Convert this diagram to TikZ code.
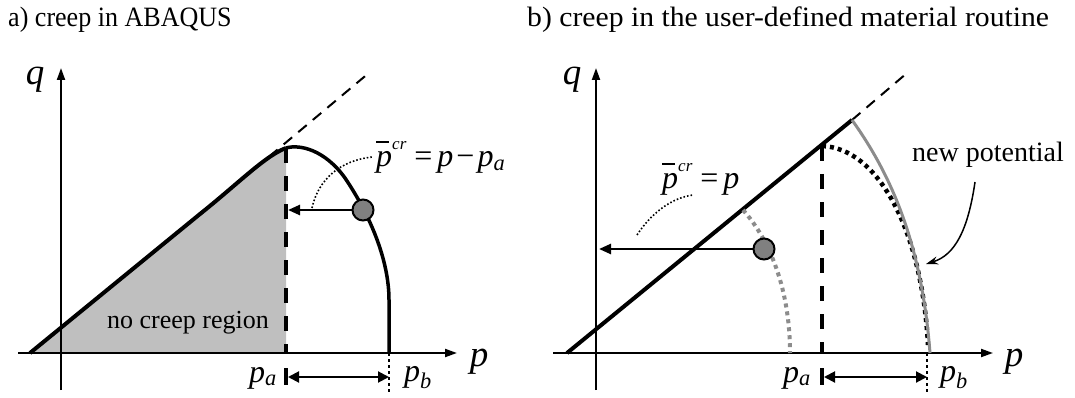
\documentclass[tikz,border=0pt]{standalone}
\usepackage{fontspec}
\setmainfont{Liberation Serif}
\usepackage{graphicx}
\usetikzlibrary{arrows.meta}
\tikzset{axis/.style={-{Triangle[length=12pt,width=8pt]},line width=2pt},
         yieldline/.style={line width=4pt},
         capline/.style={line width=3.5pt},
         asym/.style={line width=2pt,dash pattern=on 11pt off 8pt},
         cutline/.style={line width=4pt,dash pattern=on 15pt off 13pt},
         dimline/.style={{Triangle[length=11pt,width=11pt]}-{Triangle[length=11pt,width=11pt]},line width=2pt},
         state/.style={circle,draw,line width=2pt,fill=black!50,minimum size=21pt,inner sep=0pt},
         push/.style={-{Triangle[length=12pt,width=10pt]},line width=2.5pt},
         lead/.style={dotted,line width=1.6pt},
         title/.style={font=\fontsize{28}{30}\selectfont,anchor=base west,inner sep=0pt},
         axlabel/.style={font=\fontsize{37}{37}\selectfont\itshape,inner sep=0pt},
         sublabel/.style={font=\fontsize{32}{32}\selectfont,inner sep=0pt},
         lbl/.style={font=\fontsize{26}{30}\selectfont,inner sep=0pt}}
\newcommand{\pcr}{\makebox[0pt][l]{\raisebox{0.74em}{\rule{0.4em}{0.06em}}}\textit{p}\raisebox{0.55em}{\fontsize{17}{17}\selectfont\textit{cr}}}
\newcommand{\psub}[1]{\textit{p}\textsubscript{\textit{#1}}}

\begin{document}
\begin{tikzpicture}[x=1pt,y=-1pt]
  \useasboundingbox (0,0) rectangle (1075,398);
  % a) creep in ABAQUS
  \node[title] (ta) at (8,27) {\scalebox{0.93}[1]{a) creep in ABAQUS}};
  \fill[black!25] (30,353) -- (200,214) .. controls (240,182) and (265,156) .. (286,148)
    -- (286,353) -- cycle;
  \node[lbl] (nocreep) at (188,323) {no creep region};
  \coordinate (qa0) at (61,390); \coordinate (qa1) at (61,68);
  \coordinate (pa0) at (18,353); \coordinate (pa1) at (457,353);
  \draw[axis] (qa0) -- (qa1);
  \draw[axis] (pa0) -- (pa1);
  \node[axlabel] (qla) at (35,80) {q};
  \node[axlabel] (pla) at (479,362) {p};
  \coordinate (da0) at (240,181); \coordinate (da1) at (370,72);
  \draw[asym] (da0) -- (da1);
  \coordinate (ya0) at (30,353); \coordinate (ya1) at (286,148);
  \draw[yieldline] (ya0) -- (200,214) .. controls (240,182) and (265,156) .. (ya1);
  \coordinate (ca0) at (286,353);
  \draw[cutline] (ya1) -- (ca0);
  \coordinate (cb0) at (389,353);
  \draw[capline] (ya1) .. controls (300,144) and (325,150) .. (345,178)
    .. controls (370,215) and (389,260) .. (389,300) -- (cb0);
  \node[state] (sa) at (363,210) {};
  \coordinate (ta0) at (288,210);
  \draw[push] (sa) -- (ta0);
  \coordinate (la0) at (312,208); \coordinate (la1) at (373,157);
  \draw[lead] (la0) .. controls (318,180) and (340,160) .. (la1);
  \node[sublabel,anchor=base west] (eqa) at (376,167)
    {\pcr\hspace{0.25em}=\hspace{0.15em}\textit{p}\hspace{0.1em}−\hspace{0.1em}\psub{a}};
  % limits below the p axis
  \coordinate (ka0) at (286,368); \coordinate (ka1) at (286,385);
  \draw[line width=4pt] (ka0) -- (ka1);
  \coordinate (kb0) at (389,392);
  \draw[dashed,line width=1.5pt] (cb0) -- (kb0);
  \coordinate (ma0) at (288,377); \coordinate (ma1) at (389,377);
  \draw[dimline] (ma0) -- (ma1);
  \node[sublabel] (paa) at (263,378) {\psub{a}};
  \node[sublabel] (pba) at (418,378) {\psub{b}};

  % b) creep in the user-defined material routine
  \node[title] (tb) at (527,27) {\scalebox{1.06}[1]{b) creep in the user-defined material routine}};
  \coordinate (qb0) at (596,390); \coordinate (qb1) at (596,68);
  \coordinate (pb0) at (553,353); \coordinate (pb1) at (993,353);
  \draw[axis] (qb0) -- (qb1);
  \draw[axis] (pb0) -- (pb1);
  \node[axlabel] (qlb) at (572,80) {q};
  \node[axlabel] (plb) at (1014,362) {p};
  \coordinate (yb0) at (567,353); \coordinate (yb1) at (852,120);
  \coordinate (db1) at (907,73);
  \draw[asym] (yb1) -- (db1);
  \draw[yieldline] (yb0) -- (yb1);
  \coordinate (cc1) at (822,146); \coordinate (cc0) at (822,353);
  \draw[cutline] (cc1) -- (cc0);
  \coordinate (go0) at (743,210); \coordinate (go1) at (790,353);
  \draw[black!45,line width=4pt,dash pattern=on 4pt off 4pt] (go0)
    .. controls (770,240) and (790,290) .. (go1);
  \coordinate (bd1) at (928,345);
  \draw[line width=4.5pt,dash pattern=on 4pt off 4pt] (cc1)
    .. controls (878,148) and (922,230) .. (bd1);
  \coordinate (np1) at (930,353);
  \draw[black!45,line width=3pt] (yb1) .. controls (895,180) and (922,250) .. (np1);
  \node[state] (sb) at (764,249) {};
  \coordinate (tb0) at (599,249);
  \draw[push] (sb) -- (tb0);
  \coordinate (lb0) at (637,235); \coordinate (lb1) at (693,195);
  \draw[lead] (lb0) .. controls (650,215) and (670,198) .. (lb1);
  \node[sublabel,anchor=base west] (eqb) at (662,189)
    {\pcr\hspace{0.25em}=\hspace{0.15em}\textit{p}};
  \node[lbl,font=\fontsize{28}{30}\selectfont] (newpot) at (988,155) {new potential};
  \coordinate (nt0) at (975,182); \coordinate (nt1) at (926,264);
  \draw[-{Stealth[length=12pt,width=8pt]},line width=1.5pt] (nt0)
    .. controls (968,230) and (955,255) .. (nt1);
  % limits below the p axis
  \coordinate (kc0) at (822,368); \coordinate (kc1) at (822,385);
  \draw[line width=4pt] (kc0) -- (kc1);
  \coordinate (kd0) at (927,353); \coordinate (kd1) at (927,392);
  \draw[dashed,line width=1.5pt] (kd0) -- (kd1);
  \coordinate (mb0) at (824,377); \coordinate (mb1) at (927,377);
  \draw[dimline] (mb0) -- (mb1);
  \node[sublabel] (pab) at (797,378) {\psub{a}};
  \node[sublabel] (pbb) at (954,378) {\psub{b}};
\end{tikzpicture}
\end{document}
